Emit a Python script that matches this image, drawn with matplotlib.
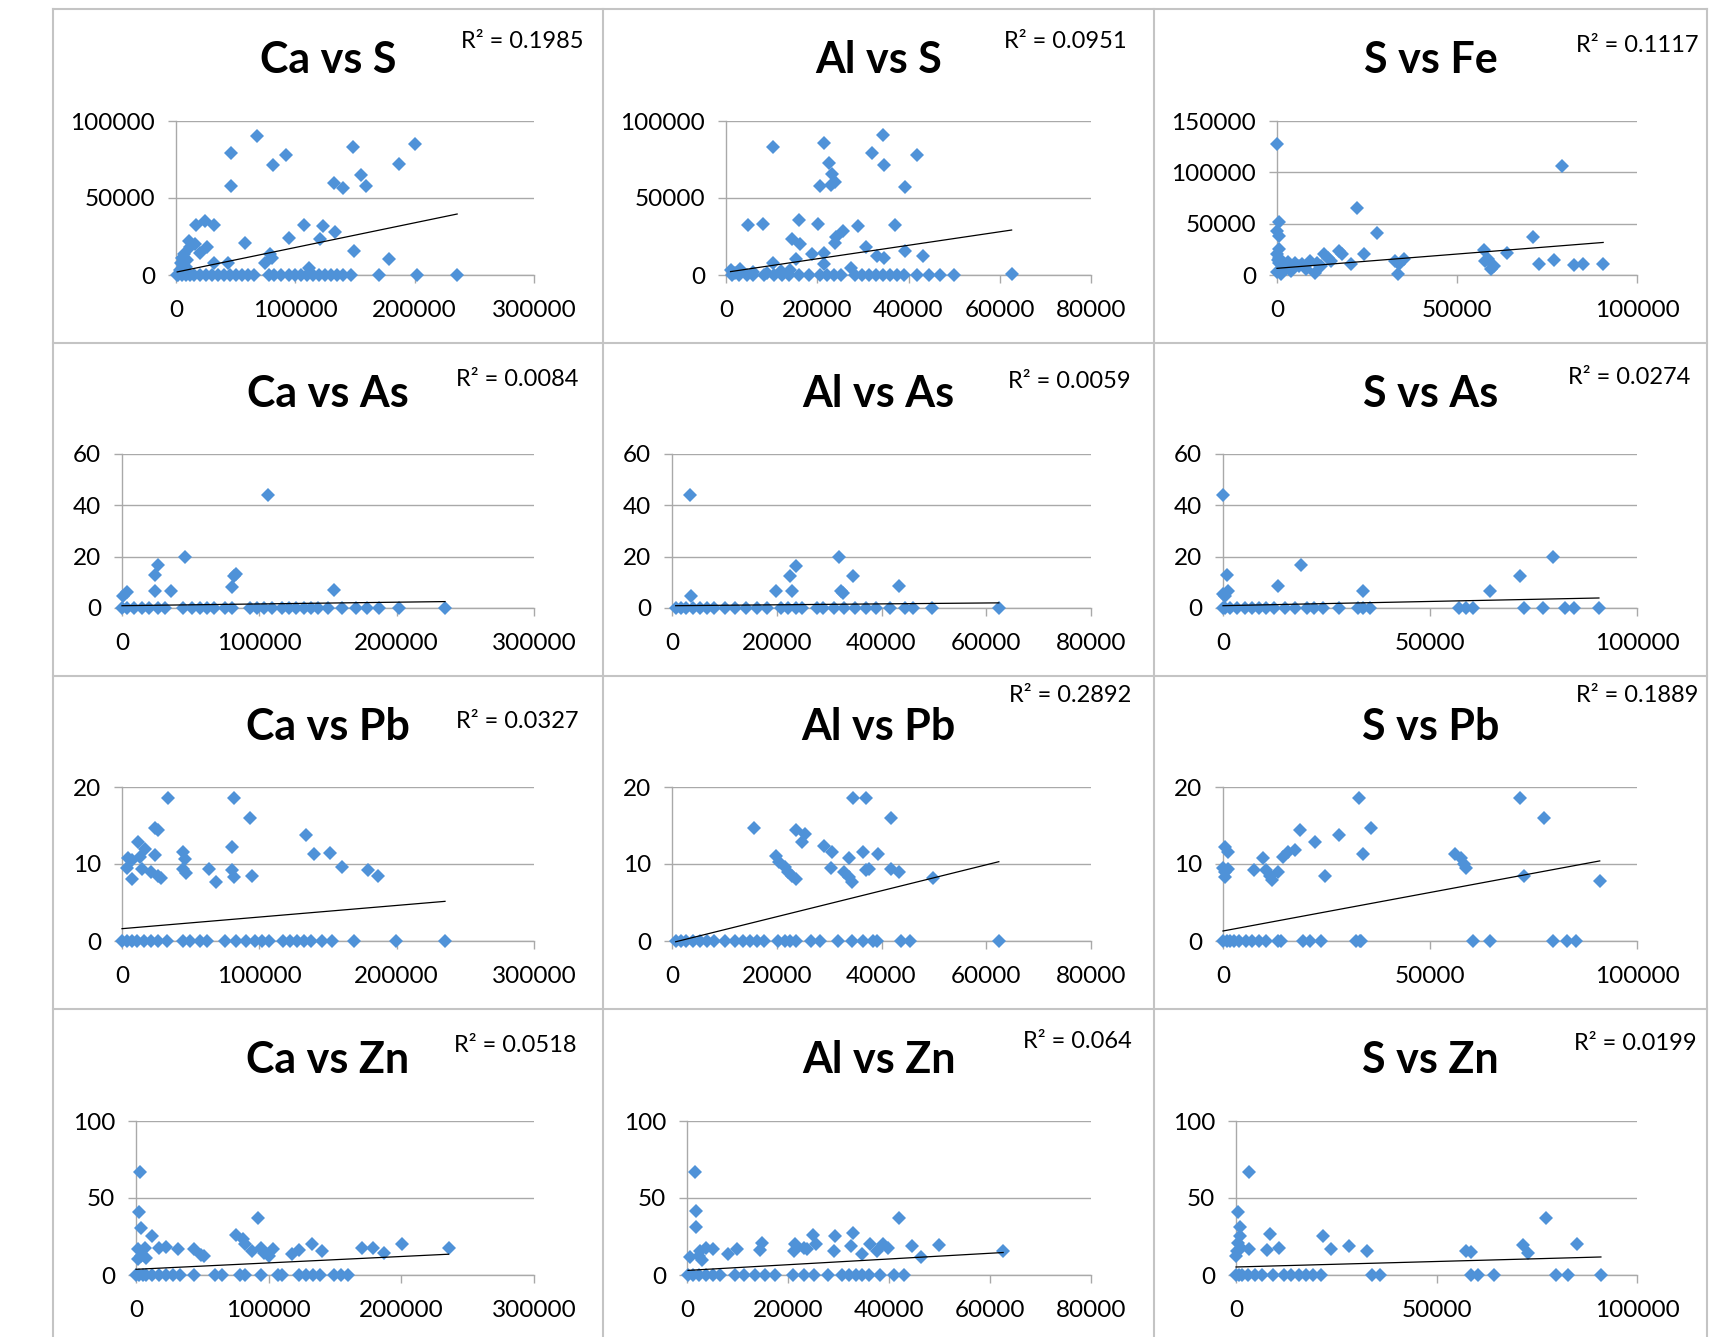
import matplotlib
matplotlib.use("Agg")
import matplotlib.pyplot as plt
from matplotlib.lines import Line2D

plt.rcParams["font.family"] = ["Lato", "DejaVu Sans"]

# ----------------------------------------------------------------------
# data (x, y per panel; trend = y at min x, y at max x)
# ----------------------------------------------------------------------
CA_S_X = [46000, 46000, 67600, 81500, 92400, 148500, 200000, 187000, 155000, 159000,
          132000, 139600, 57900, 94500, 107000, 120500, 123400, 133000, 149000, 178600,
          17000, 24000, 32000, 11000, 15600, 26000, 6800, 5300, 4000, 32000,
          43700, 74700, 79000, 80600, 111600, 3000, 8000, 12000, 20000, 9000,
          170000, 201600, 235600, 1000, 2000, 5000, 8000, 12000, 15000, 20000,
          25000, 30000, 35000, 40000, 45000, 50000, 55000, 60000, 65000, 78000,
          82000, 88000, 95000, 100000, 105000, 110000, 115000, 120000, 125000, 130000,
          135000, 140000, 147000]
CA_S_Y = [79000, 57500, 90200, 71200, 77800, 82800, 85000, 72300, 64700, 58000,
          59700, 56600, 20500, 24000, 32700, 23300, 31600, 27700, 15300, 10200,
          32700, 35300, 32500, 22200, 20000, 17900, 13500, 11300, 8000, 8000,
          8000, 8000, 13500, 11300, 4800, 3000, 5000, 18000, 14000, 10000,
          0, 0, 0, 0, 0, 0, 0, 0, 0, 0,
          0, 0, 0, 0, 0, 0, 0, 0, 0, 0,
          0, 0, 0, 0, 0, 0, 0, 0, 0, 0,
          0, 0, 0]
CA_S_TREND = [2000, 39600]

AL_S_X = [10400, 21500, 22600, 23200, 23800, 20500, 23000, 34400, 31900, 34600,
          41800, 39200, 4900, 8000, 16100, 20100, 29000, 37100, 14500, 16300,
          24200, 25700, 23800, 30700, 34600, 33000, 39200, 43200, 18800, 21500,
          15300, 10300, 27300, 21500, 1000, 2000, 3000, 6000, 9000, 12000,
          14000, 62600,
          1400, 2900, 4500, 6000, 8300, 10600, 12200, 13700, 16000, 18300,
          20600, 22200, 23700, 25200, 28300, 29800, 31400, 32900, 34400, 36000,
          37500, 39000, 41900, 44500, 46900, 50000]
AL_S_Y = [82800, 85400, 73000, 65800, 60300, 57500, 58200, 90800, 79500, 71700,
          77800, 57100, 32700, 33100, 35900, 33100, 32000, 32500, 23300, 20000,
          24800, 28300, 21100, 17900, 11300, 12400, 15300, 12400, 13500, 14600,
          10200, 8000, 4800, 7000, 3000, 1500, 4000, 2000, 1000, 2500,
          3500, 400,
          0, 0, 0, 0, 0, 0, 0, 0, 0, 0,
          0, 0, 0, 0, 0, 0, 0, 0, 0, 0,
          0, 0, 0, 0, 0, 0]
AL_S_TREND = [2200, 29200]

S_FE_X = [0, 79300, 22200, 27700, 500, 0, 500, 71200, 64000, 57400,
          59400, 57900, 72800, 77000, 82600, 85100, 90600, 33500, 32700, 35200,
          24200, 18100, 17100, 13100, 14100, 20600, 9100, 6000, 4000, 500,
          500, 500, 1000, 1000, 2500, 5000, 8000, 10600, 12100, 0,
          0, 300, 1500, 3000, 7000, 11000, 15000, 58600, 60200, 34000]
S_FE_Y = [128000, 106200, 65400, 40800, 51300, 43100, 38200, 36600, 21900, 24500,
          5600, 13700, 11100, 14700, 9800, 11100, 10500, 600, 13700, 16000,
          20300, 20300, 23500, 20300, 17000, 10500, 13700, 8800, 3900, 25200,
          17000, 12100, 5600, 650, 7200, 12100, 5600, 2300, 8800, 20000,
          3000, 15000, 10000, 13000, 11000, 12000, 14000, 16000, 9000, 11000]
S_FE_TREND = [6500, 31700]

CA_AS_X = [106300, 45600, 26400, 23800, 23800, 35400, 80200, 81500, 82800, 154500,
           800, 3300,
           0, 3800, 9000, 14900, 20000, 26400, 31500, 44300, 50700, 57100,
           62200, 67300, 75000, 80200, 93000, 98200, 103300, 109300, 116800, 121900,
           127000, 132200, 137300, 142400, 150100, 160300, 170600, 178300, 187300, 201400,
           235200]
CA_AS_Y = [44, 19.9, 16.6, 12.7, 6.8, 6.8, 8.1, 12.3, 13.3, 7.1,
           4.8, 6.4,
           0, 0, 0, 0, 0, 0, 0, 0, 0, 0,
           0, 0, 0, 0, 0, 0, 0, 0, 0, 0,
           0, 0, 0, 0, 0, 0, 0, 0, 0, 0,
           0]
CA_AS_TREND = [0.9, 2.5]

AL_AS_X = [3500, 31800, 23600, 22600, 34500, 22900, 19900, 32300, 32600, 43300,
           3700,
           700, 1700, 2700, 4000, 5400, 6700, 8100, 10100, 12100, 14100,
           16200, 18200, 20900, 22200, 23600, 24900, 27600, 28900, 30900, 32900,
           35000, 37000, 39000, 41700, 44400, 46100, 49600, 62400]
AL_AS_Y = [44, 19.9, 16.3, 12.3, 12.3, 6.8, 6.8, 6.8, 5.9, 8.4,
           4.8,
           0, 0, 0, 0, 0, 0, 0, 0, 0, 0,
           0, 0, 0, 0, 0, 0, 0, 0, 0, 0,
           0, 0, 0, 0, 0, 0, 0, 0]
AL_AS_TREND = [0.9, 2.0]

S_AS_X = [0, 79600, 71800, 64500, 18900, 13200, 33800, 900, 1300, 0,
          400,
          0, 400, 1800, 3500, 5300, 7000, 8800, 10500, 12300, 14900,
          17500, 20200, 21900, 24100, 28100, 32500, 33800, 35600, 57000, 58800,
          60500, 72600, 77400, 82600, 84800, 90800]
S_AS_Y = [44, 19.9, 12.3, 6.8, 16.6, 8.5, 6.8, 12.7, 6.8, 5.5,
          4.6,
          0, 0, 0, 0, 0, 0, 0, 0, 0, 0,
          0, 0, 0, 0, 0, 0, 0, 0, 0, 0,
          0, 0, 0, 0, 0, 0]
S_AS_TREND = [0.9, 3.9]

CA_PB_X = [33600, 81500, 93000, 134000, 139900, 151400, 160100, 178800, 186500, 80200,
           80200, 81500, 95000, 63500, 68200, 44300, 45600, 44300, 46400, 11800,
           23800, 26400, 16700, 23800, 4600, 7200, 3300, 7200, 14900, 21300,
           26400, 28200, 13100,
           0, 3300, 7200, 11000, 16100, 21300, 26400, 32800, 44300, 49400,
           57100, 62200, 74800, 82800, 90400, 96900, 102000, 107100, 117400, 122500,
           127600, 132700, 137900, 145500, 153200, 168600, 199300, 235200]
CA_PB_Y = [18.6, 18.6, 16.0, 13.8, 11.3, 11.4, 9.6, 9.2, 8.5, 12.2,
           9.2, 8.3, 8.5, 9.4, 7.7, 11.6, 10.7, 9.4, 8.8, 12.9,
           14.7, 14.4, 11.9, 11.2, 10.8, 10.5, 9.5, 8.0, 9.4, 9.0,
           8.4, 8.2, 10.9,
           0, 0, 0, 0, 0, 0, 0, 0, 0, 0,
           0, 0, 0, 0, 0, 0, 0, 0, 0, 0,
           0, 0, 0, 0, 0, 0, 0, 0]
CA_PB_TREND = [1.6, 5.15]

AL_PB_X = [34500, 37000, 41800, 15600, 23600, 25300, 24900, 29000, 30600, 33700,
           36400, 39300, 19900, 20500, 21500, 22200, 22900, 23600, 30300, 32900,
           33700, 34300, 37000, 37700, 41800, 43400, 49800,
           700, 1700, 2700, 4000, 5400, 6700, 8100, 10100, 12100, 13500,
           14800, 16200, 17500, 20200, 21500, 22500, 23600, 26600, 28300, 31600,
           34300, 36400, 38400, 39100, 43800, 45500, 62400]
AL_PB_Y = [18.6, 18.6, 16.0, 14.7, 14.4, 13.9, 12.9, 12.3, 11.6, 10.8,
           11.6, 11.3, 11.1, 10.3, 9.6, 9.0, 8.5, 8.0, 9.5, 9.0,
           8.3, 7.7, 9.2, 9.4, 9.4, 9.0, 8.2,
           0, 0, 0, 0, 0, 0, 0, 0, 0, 0,
           0, 0, 0, 0, 0, 0, 0, 0, 0, 0,
           0, 0, 0, 0, 0, 0, 0]
AL_PB_TREND = [-0.1, 10.3]

S_PB_X = [32900, 71700, 77600, 35700, 28100, 22200, 18700, 33800, 17500, 15800,
          14500, 13200, 11800, 11400, 10500, 9600, 7500, 24600, 400, 1300,
          0, 400, 400, 1300, 56100, 57500, 58300, 58800, 72800, 91000,
          0, 900, 1800, 2600, 3900, 5600, 7000, 8800, 10500, 13200,
          14000, 19300, 21100, 23700, 32100, 33000, 33300, 60500, 64500, 79800,
          83000, 85200]
S_PB_Y = [18.6, 18.6, 16.0, 14.7, 13.8, 12.9, 14.4, 11.3, 11.8, 11.6,
          10.9, 9.0, 7.9, 8.5, 9.2, 10.8, 9.2, 8.5, 12.2, 11.6,
          9.5, 9.0, 8.3, 9.4, 11.3, 10.8, 10.0, 9.5, 8.5, 7.8,
          0, 0, 0, 0, 0, 0, 0, 0, 0, 0,
          0, 0, 0, 0, 0, 0, 0, 0, 0, 0,
          0, 0]
S_PB_TREND = [1.3, 10.4]

CA_ZN_X = [3200, 2600, 4000, 12400, 91900, 75500, 80800, 82100, 87400, 94000,
           96700, 103300, 100600, 117900, 123200, 132400, 140400, 170000, 178700, 186700,
           200400, 235600, 17200, 22500, 31800, 43700, 49000, 51600, 1300, 4000,
           7100, 7900, 1300,
           0, 2600, 5300, 7900, 11900, 17200, 22500, 27800, 33100, 43700,
           59600, 64900, 78100, 82100, 94000, 107200, 109900, 123100, 128400, 133700,
           139000, 149500, 154800, 160100]
CA_ZN_Y = [66.7, 40.7, 30.4, 25.4, 36.7, 26.1, 23.3, 20.0, 15.7, 17.8,
           14.6, 16.7, 12.4, 13.5, 16.3, 20.0, 15.7, 17.4, 17.8, 14.1,
           20.0, 17.4, 17.4, 18.5, 16.7, 17.2, 12.8, 12.4, 16.7, 12.4,
           17.8, 11.3, 10.2,
           0, 0, 0, 0, 0, 0, 0, 0, 0, 0,
           0, 0, 0, 0, 0, 0, 0, 0, 0, 0,
           0, 0, 0, 0]
CA_ZN_TREND = [3.7, 13.5]

AL_ZN_X = [1500, 1700, 1800, 2300, 600, 2600, 3700, 5100, 3000, 8200,
           9900, 14800, 14500, 21100, 21400, 23100, 25000, 25600, 23800, 29100,
           29400, 32900, 32500, 34600, 36300, 38800, 39900, 37700, 41900, 44600,
           46400, 49900, 62600,
           200, 1200, 2300, 3700, 5100, 6500, 9600, 11300, 13400, 15400,
           17500, 21000, 23100, 25200, 27900, 30600, 32000, 33400, 34700, 36100,
           38200, 41000, 43000]
AL_ZN_Y = [67.2, 41.3, 30.9, 12.4, 12.0, 15.7, 17.8, 16.7, 9.8, 13.5,
           16.7, 21.1, 16.3, 15.7, 20.0, 17.8, 25.9, 20.0, 16.7, 15.7,
           25.4, 27.0, 18.9, 13.5, 20.0, 20.0, 17.8, 15.7, 36.7, 18.9,
           12.0, 19.3, 15.7,
           0, 0, 0, 0, 0, 0, 0, 0, 0, 0,
           0, 0, 0, 0, 0, 0, 0, 0, 0, 0,
           0, 0, 0]
AL_ZN_TREND = [3.0, 14.6]

S_ZN_X = [3300, 500, 900, 900, 500, 1200, 3200, 0, 300, 8400,
          7700, 10700, 21800, 23800, 28100, 32700, 57400, 58700, 77300, 71600,
          72800, 85000,
          0, 700, 1600, 3000, 4800, 6600, 9300, 12000, 13800, 15700,
          17500, 19300, 21100, 34000, 35800, 58500, 60300, 64400, 79700, 82900,
          91000]
S_ZN_Y = [67.2, 41.1, 30.9, 25.4, 21.1, 17.8, 16.7, 12.4, 15.7, 26.5,
          16.3, 17.4, 25.4, 16.7, 18.9, 15.7, 15.7, 15.0, 36.7, 19.3,
          14.6, 20.0,
          0, 0, 0, 0, 0, 0, 0, 0, 0, 0,
          0, 0, 0, 0, 0, 0, 0, 0, 0, 0,
          0]
S_ZN_TREND = [5.2, 11.7]

TITLES = ["Ca vs S", "Al vs S", "S vs Fe",
          "Ca vs As", "Al vs As", "S vs As",
          "Ca vs Pb", "Al vs Pb", "S vs Pb",
          "Ca vs Zn", "Al vs Zn", "S vs Zn"]
R2_LABELS = ["0.1985", "0.0951", "0.1117",
             "0.0084", "0.0059", "0.0274",
             "0.0327", "0.2892", "0.1889",
             "0.0518", "0.064", "0.0199"]
SERIES = [(CA_S_X, CA_S_Y, CA_S_TREND), (AL_S_X, AL_S_Y, AL_S_TREND), (S_FE_X, S_FE_Y, S_FE_TREND),
          (CA_AS_X, CA_AS_Y, CA_AS_TREND), (AL_AS_X, AL_AS_Y, AL_AS_TREND), (S_AS_X, S_AS_Y, S_AS_TREND),
          (CA_PB_X, CA_PB_Y, CA_PB_TREND), (AL_PB_X, AL_PB_Y, AL_PB_TREND), (S_PB_X, S_PB_Y, S_PB_TREND),
          (CA_ZN_X, CA_ZN_Y, CA_ZN_TREND), (AL_ZN_X, AL_ZN_Y, AL_ZN_TREND), (S_ZN_X, S_ZN_Y, S_ZN_TREND)]

# axis scales: (max, step) per column for x, per panel for y
X_SCALES = [(300000, 100000), (80000, 20000), (100000, 50000)]
Y_SCALES = [(100000, 50000), (100000, 50000), (150000, 50000),
            (60, 20), (60, 20), (60, 20),
            (20, 10), (20, 10), (20, 10),
            (100, 50), (100, 50), (100, 50)]

# ----------------------------------------------------------------------
# layout in pixels of the 1723 x 1337 canvas
# ----------------------------------------------------------------------
W, H = 1723, 1337
COL_EDGES = [53, 603, 1154, 1707]
ROW_EDGES = [9, 343, 676, 1009]
PLOT_BOTTOM = [275, 608, 941, 1275]
PLOT_TOP = [121, 454, 787, 1121]
PLOT_RIGHT = [534, 1091, 1637]
PLOT_LEFT = [[176, 726, 1277], [122, 672, 1223], [122, 672, 1223], [136, 687, 1236]]
R2_POS = [(461, 41), (1004, 41), (1576, 45),
          (456, 379), (1008, 382), (1568, 378),
          (456, 721), (1009, 696), (1576, 696),
          (454, 1045), (1023, 1041), (1574, 1043)]

BLUE = "#4F92D8"
GRID = "#A9A9A9"

fig = plt.figure(figsize=(W / 100, H / 100), dpi=100)
fig.patch.set_facecolor("white")

for i, (title, r2, (xs, ys, trend)) in enumerate(zip(TITLES, R2_LABELS, SERIES)):
    row, col = divmod(i, 3)
    l, r = PLOT_LEFT[row][col], PLOT_RIGHT[col]
    t, b = PLOT_TOP[row], PLOT_BOTTOM[row]
    ax = fig.add_axes([l / W, 1 - b / H, (r - l) / W, (b - t) / H])

    xmax, xstep = X_SCALES[col]
    ymax, ystep = Y_SCALES[i]

    ax.plot(xs, ys, "D", color=BLUE, markersize=7.4, markeredgewidth=0, clip_on=False, zorder=3)
    ax.plot([min(xs), max(xs)], trend, color="black", linewidth=0.9, clip_on=False, zorder=4)

    ax.set_xlim(0, xmax)
    ax.set_ylim(0, ymax)
    ax.set_xticks(range(0, xmax + 1, xstep))
    ax.set_yticks(range(0, ymax + 1, ystep))
    ax.grid(True, axis="y", color=GRID, linewidth=1.0)
    ax.set_axisbelow(True)
    for side in ("top", "right"):
        ax.spines[side].set_visible(False)
    for side in ("left", "bottom"):
        ax.spines[side].set_color(GRID)
        ax.spines[side].set_linewidth(1.0)
    ax.tick_params(axis="both", direction="out", length=6, width=1.0, color=GRID, labelsize=17.5)
    ax.tick_params(axis="x", pad=12)
    ax.tick_params(axis="y", pad=9)

    cx = (COL_EDGES[col] + COL_EDGES[col + 1]) / 2
    fig.text(cx / W, 1 - (ROW_EDGES[row] + 51) / H, title, ha="center", va="center",
             fontsize=31, fontweight="bold")
    rx, ry = R2_POS[i]
    fig.text(rx / W, 1 - ry / H, f"R² = {r2}", ha="left", va="center", fontsize=17)

# chart-area borders
for x in COL_EDGES:
    fig.add_artist(Line2D([x / W, x / W], [0, 1 - ROW_EDGES[0] / H], color="#C4C4C4", linewidth=1.5))
for y in ROW_EDGES:
    fig.add_artist(Line2D([COL_EDGES[0] / W, COL_EDGES[-1] / W], [1 - y / H, 1 - y / H],
                          color="#C4C4C4", linewidth=1.5))

fig.savefig("out.png", dpi=100)
